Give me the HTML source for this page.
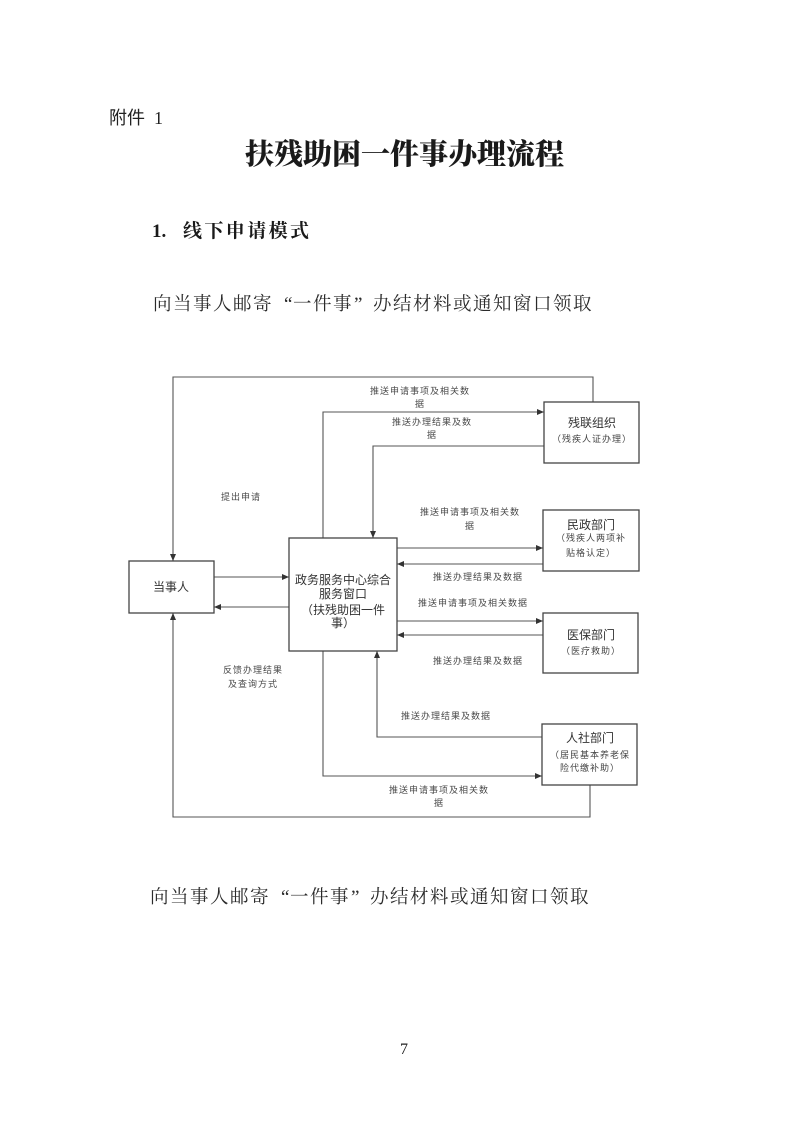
<!DOCTYPE html>
<html>
<head>
<meta charset="utf-8">
<style>
  html,body{margin:0;padding:0;background:#fff;}
  svg{display:block;}
  .dt{font-family:"Liberation Sans","Noto Sans CJK SC",sans-serif;}
  .lbl{font-size:9px;letter-spacing:1px;fill:#4a4a4a;}
  .bt{font-size:12px;fill:#333;}
  .bs{font-size:9px;letter-spacing:1px;fill:#444;}
  .ln{fill:none;stroke:#555;stroke-width:1.1;}
  .bx{fill:#fff;stroke:#444;stroke-width:1.3;}
  .bd{font-family:"Noto Serif CJK SC",serif;font-size:18.5px;fill:#2a2a2a;}
  .q{font-family:"Liberation Serif",serif;font-size:19px;fill:#2a2a2a;}
</style>
</head>
<body>
<svg width="793" height="1122" viewBox="0 0 793 1122" xmlns="http://www.w3.org/2000/svg">
  <defs>
    <marker id="a" markerWidth="7" markerHeight="6" refX="7" refY="3" orient="auto" markerUnits="userSpaceOnUse">
      <path d="M0,0 L7,3 L0,6 z" fill="#333"/>
    </marker>
  </defs>

  <!-- Header texts -->
  <text x="109" y="124" font-family="'Noto Sans CJK SC',sans-serif" font-size="18" fill="#222">附件</text>
  <text x="154" y="124" font-family="'Liberation Serif',serif" font-size="18" fill="#222">1</text>

  <text x="404.5" y="164" text-anchor="middle" font-family="'Liberation Serif','Noto Serif CJK SC',serif" font-size="29" font-weight="900" fill="#1a1a1a">扶残助困一件事办理流程</text>

  <text x="152" y="237" font-family="'Liberation Serif',serif" font-size="19" font-weight="bold" fill="#1a1a1a">1.</text>
  <text x="183" y="237" font-family="'Liberation Serif','Noto Serif CJK SC',serif" font-size="19" font-weight="bold" letter-spacing="2.4" fill="#1a1a1a">线下申请模式</text>

  <!-- body line 1 -->
  <g>
    <text class="bd" x="153" y="310">向</text>
    <text class="bd" x="173" y="310">当</text>
    <text class="bd" x="193" y="310">事</text>
    <text class="bd" x="213" y="310">人</text>
    <text class="bd" x="233" y="310">邮</text>
    <text class="bd" x="253" y="310">寄</text>
    <text class="q" x="284" y="310">“</text>
    <text class="bd" x="293" y="310">一</text>
    <text class="bd" x="313" y="310">件</text>
    <text class="bd" x="333" y="310">事</text>
    <text class="q" x="354" y="310">”</text>
    <text class="bd" x="373" y="310">办</text>
    <text class="bd" x="393" y="310">结</text>
    <text class="bd" x="413" y="310">材</text>
    <text class="bd" x="433" y="310">料</text>
    <text class="bd" x="453" y="310">或</text>
    <text class="bd" x="473" y="310">通</text>
    <text class="bd" x="493" y="310">知</text>
    <text class="bd" x="513" y="310">窗</text>
    <text class="bd" x="533" y="310">口</text>
    <text class="bd" x="553" y="310">领</text>
    <text class="bd" x="573" y="310">取</text>
  </g>

  <!-- Diagram connectors -->
  <path class="ln" d="M593,402 V377 H173 V561" marker-end="url(#a)"/>
  <path class="ln" d="M323,538 V412 H544" marker-end="url(#a)"/>
  <path class="ln" d="M544,446 H373 V538" marker-end="url(#a)"/>
  <path class="ln" d="M214,577 H289" marker-end="url(#a)"/>
  <path class="ln" d="M289,607 H214" marker-end="url(#a)"/>
  <path class="ln" d="M397,548 H543" marker-end="url(#a)"/>
  <path class="ln" d="M543,564 H397" marker-end="url(#a)"/>
  <path class="ln" d="M397,621 H543" marker-end="url(#a)"/>
  <path class="ln" d="M543,635 H397" marker-end="url(#a)"/>
  <path class="ln" d="M542,737 H377 V651" marker-end="url(#a)"/>
  <path class="ln" d="M323,651 V776 H542" marker-end="url(#a)"/>
  <path class="ln" d="M590,785 V817 H173 V613" marker-end="url(#a)"/>

  <!-- Boxes -->
  <rect class="bx" x="129" y="561" width="85" height="52"/>
  <rect class="bx" x="289" y="538" width="108" height="113"/>
  <rect class="bx" x="544" y="402" width="95" height="61"/>
  <rect class="bx" x="543" y="510" width="96" height="61"/>
  <rect class="bx" x="543" y="613" width="95" height="60"/>
  <rect class="bx" x="542" y="724" width="95" height="61"/>

  <g class="dt">
    <!-- box texts -->
    <text class="bt" x="171" y="591" text-anchor="middle">当事人</text>

    <text class="bt" x="343" y="584" text-anchor="middle">政务服务中心综合</text>
    <text class="bt" x="343" y="598" text-anchor="middle">服务窗口</text>
    <text class="bt" x="343" y="614" text-anchor="middle">（扶残助困一件</text>
    <text class="bt" x="343" y="627" text-anchor="middle">事）</text>

    <text class="bt" x="592" y="427" text-anchor="middle">残联组织</text>
    <text class="bs" x="592" y="442" text-anchor="middle">（残疾人证办理）</text>

    <text class="bt" x="591" y="529" text-anchor="middle">民政部门</text>
    <text class="bs" x="591" y="541" text-anchor="middle">（残疾人两项补</text>
    <text class="bs" x="591" y="556" text-anchor="middle">贴格认定）</text>

    <text class="bt" x="591" y="639" text-anchor="middle">医保部门</text>
    <text class="bs" x="591" y="654" text-anchor="middle">（医疗救助）</text>

    <text class="bt" x="590" y="742" text-anchor="middle">人社部门</text>
    <text class="bs" x="590" y="758" text-anchor="middle">（居民基本养老保</text>
    <text class="bs" x="590" y="771" text-anchor="middle">险代缴补助）</text>

    <!-- connector labels -->
    <text class="lbl" x="420" y="394" text-anchor="middle">推送申请事项及相关数</text>
    <text class="lbl" x="420" y="407" text-anchor="middle">据</text>
    <text class="lbl" x="432" y="425" text-anchor="middle">推送办理结果及数</text>
    <text class="lbl" x="432" y="438" text-anchor="middle">据</text>

    <text class="lbl" x="241" y="500" text-anchor="middle">提出申请</text>

    <text class="lbl" x="470" y="515" text-anchor="middle">推送申请事项及相关数</text>
    <text class="lbl" x="470" y="529" text-anchor="middle">据</text>
    <text class="lbl" x="478" y="580" text-anchor="middle">推送办理结果及数据</text>
    <text class="lbl" x="473" y="606" text-anchor="middle">推送申请事项及相关数据</text>
    <text class="lbl" x="478" y="664" text-anchor="middle">推送办理结果及数据</text>

    <text class="lbl" x="253" y="673" text-anchor="middle">反馈办理结果</text>
    <text class="lbl" x="253" y="687" text-anchor="middle">及查询方式</text>

    <text class="lbl" x="446" y="719" text-anchor="middle">推送办理结果及数据</text>
    <text class="lbl" x="439" y="793" text-anchor="middle">推送申请事项及相关数</text>
    <text class="lbl" x="439" y="806" text-anchor="middle">据</text>
  </g>

  <!-- body line 2 -->
  <g>
    <text class="bd" x="150" y="903">向</text>
    <text class="bd" x="170" y="903">当</text>
    <text class="bd" x="190" y="903">事</text>
    <text class="bd" x="210" y="903">人</text>
    <text class="bd" x="230" y="903">邮</text>
    <text class="bd" x="250" y="903">寄</text>
    <text class="q" x="281" y="903">“</text>
    <text class="bd" x="290" y="903">一</text>
    <text class="bd" x="310" y="903">件</text>
    <text class="bd" x="330" y="903">事</text>
    <text class="q" x="351" y="903">”</text>
    <text class="bd" x="370" y="903">办</text>
    <text class="bd" x="390" y="903">结</text>
    <text class="bd" x="410" y="903">材</text>
    <text class="bd" x="430" y="903">料</text>
    <text class="bd" x="450" y="903">或</text>
    <text class="bd" x="470" y="903">通</text>
    <text class="bd" x="490" y="903">知</text>
    <text class="bd" x="510" y="903">窗</text>
    <text class="bd" x="530" y="903">口</text>
    <text class="bd" x="550" y="903">领</text>
    <text class="bd" x="570" y="903">取</text>
  </g>

  <!-- page number -->
  <text x="404" y="1054" text-anchor="middle" font-family="'Liberation Serif',serif" font-size="16" fill="#222">7</text>
</svg>
</body>
</html>
